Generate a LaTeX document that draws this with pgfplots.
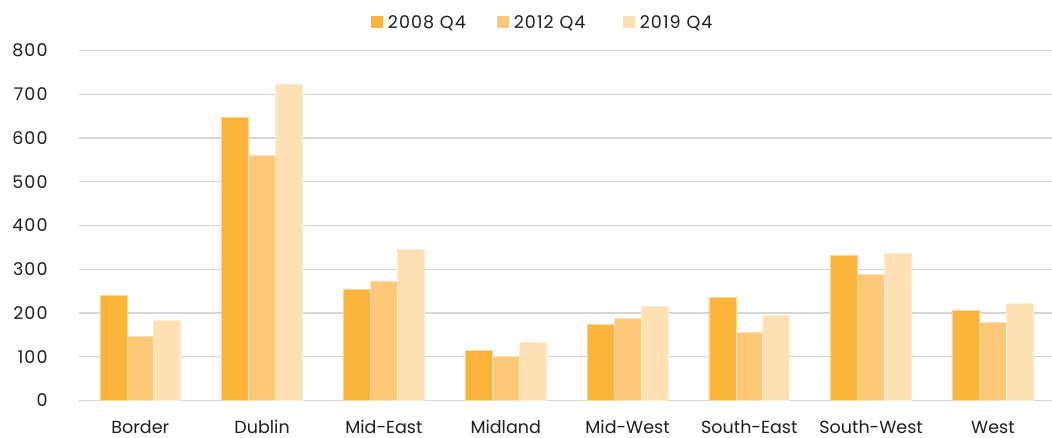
\documentclass[border=0pt]{standalone}
\usepackage{pgfplots}
\pgfplotsset{compat=1.18}
\usepackage{fontspec}
\setmainfont{Poppins}
\newfontfamily\numfont[LetterSpace=6]{Poppins}
\definecolor{cA}{HTML}{FBB33A}
\definecolor{cB}{HTML}{FDC878}
\definecolor{cC}{HTML}{FEE1B3}
\definecolor{gridc}{HTML}{D6D6D6}
\definecolor{txt}{HTML}{1E1E1E}
\begin{document}
\begin{tikzpicture}
\begin{axis}[
  at={(0pt,0pt)}, anchor=south west,
  scale only axis,
  width=972.6pt, height=349.6pt,
  ybar=0pt, bar width=26.9pt,
  xmin=-0.5, xmax=7.485,
  ymin=0, ymax=800,
  ytick={0,100,...,800},
  xtick=data,
  xticklabels={Border,Dublin,Mid-East,Midland,Mid-West,South-East,South-West,West},
  axis line style={draw=none},
  major tick length=0pt,
  ymajorgrids,
  grid style={gridc, line width=1.3pt},
  /pgf/number format/assume math mode=true,
  tick label style={font=\fontsize{17.5}{20}\selectfont, text=txt},
  yticklabel style={anchor=east, inner sep=0pt, xshift=-31.7pt, font=\fontsize{17.5}{20}\numfont},
  xticklabel style={anchor=base, inner sep=0pt, yshift=-33pt},
  legend style={at={(291.3pt,377.8pt)}, anchor=west, draw=none, fill=none, inner sep=0pt,
    legend columns=-1, font=\fontsize{17.5}{20}\numfont, text=txt,
    nodes={inner sep=0pt, text width=109pt, align=left},
    /tikz/every odd column/.append style={column sep=5pt},
    /tikz/every even column/.append style={column sep=0pt}},
  legend cell align=left,
  legend image code/.code={\path[#1,draw=none] (0pt,-6pt) rectangle (12pt,6pt);},
]
\addplot[fill=cA, draw=cA!55!white, line width=0.6pt] coordinates {(0,240) (1,648) (2,254) (3,115) (4,174) (5,235) (6,332) (7,206)};
\addplot[fill=cB, draw=cB!55!white, line width=0.6pt] coordinates {(0,147) (1,560) (2,273) (3,100) (4,188) (5,155) (6,288) (7,179)};
\addplot[fill=cC, draw=cC!55!white, line width=0.6pt] coordinates {(0,183) (1,724) (2,345) (3,133) (4,215) (5,195) (6,337) (7,222)};
\legend{2008 Q4,2012 Q4,2019 Q4}
\end{axis}
\pgfresetboundingbox
\path (-79.4pt,-37.7pt) rectangle (972.6pt,400.3pt);
\end{tikzpicture}
\end{document}
